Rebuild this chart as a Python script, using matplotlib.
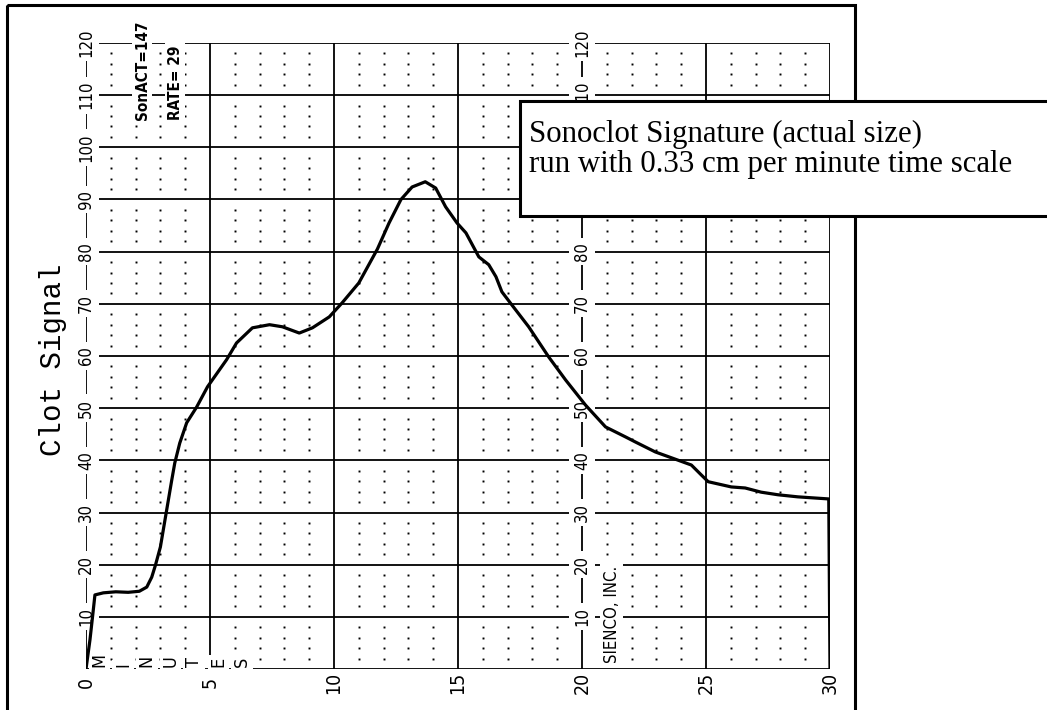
import numpy as np
import matplotlib
matplotlib.use("Agg")
import matplotlib.pyplot as plt
from matplotlib import font_manager
from matplotlib.patches import Rectangle

# Sonoclot signature trace (minutes, clot signal)
minutes = [0.0, 0.16, 0.28, 0.36, 0.7, 1.2, 1.7, 2.15, 2.45, 2.65, 2.8, 3.0,
           3.2, 3.45, 3.58, 3.78, 4.06, 4.46, 4.9, 5.67, 6.07, 6.71, 7.4,
           7.92, 8.6, 9.13, 9.81, 10.33, 11.0, 11.75, 12.22, 12.7, 13.15,
           13.68, 14.1, 14.5, 14.96, 15.32, 15.84, 16.24, 16.53, 16.77, 17.17,
           17.85, 18.66, 19.34, 20.14, 20.95, 21.75, 22.16, 22.96, 23.6, 24.41,
           24.81, 25.09, 26.02, 26.58, 27.22, 27.9, 28.7, 29.95, 30.0]
signal = [0.0, 5.6, 10.7, 14.2, 14.6, 14.8, 14.7, 14.9, 15.7, 17.6, 19.9, 23.4,
          29.0, 36.0, 39.5, 43.3, 47.2, 50.2, 54.1, 59.3, 62.5, 65.4, 66.0,
          65.6, 64.4, 65.4, 67.5, 70.2, 74.0, 80.5, 85.5, 90.0, 92.4,
          93.4, 92.2, 88.6, 85.5, 83.6, 79.0, 77.5, 75.2, 72.3, 69.8,
          65.6, 59.8, 55.4, 50.6, 46.4, 44.5, 43.5, 41.6, 40.5, 39.1,
          37.2, 35.9, 34.9, 34.7, 33.9, 33.4, 33.0, 32.6, 0.0]

# Axis labelling of the chart paper
x_ticks = [0, 5, 10, 15, 20, 25, 30]
left_strip_labels = [10, 20, 30, 40, 50, 60, 70, 80, 90, 100, 110, 120]
mid_strip_labels = [10, 20, 30, 40, 50, 60, 70, 80, 110, 120]  # 90/100 sit under the note
minutes_letters = list("MINUTES")
minutes_letter_pos = [0.55, 1.5, 2.45, 3.4, 4.35, 5.35, 6.3]
son_act = "SonACT=147"
rate = "RATE= 29"
maker = "SIENCO, INC."
y_title = "Clot Signal"
note_lines = ["Sonoclot Signature (actual size)",
              "run with 0.33 cm per minute time scale"]

# pick a narrow font for the printer style labels if there is one
available = {f.name for f in font_manager.fontManager.ttflist}
narrow = "Liberation Sans Narrow" if "Liberation Sans Narrow" in available else "DejaVu Sans"

W, H = 1047, 710
fig = plt.figure(figsize=(W / 100, H / 100), dpi=100, facecolor="white")

# chart paper area in pixels: x 0..30 min -> 86..830, y 0..120 -> 669..43
x0, x1, y0, y1 = 86, 830, 669, 43
ax = fig.add_axes([x0 / W, 1 - y0 / H, (x1 - x0) / W, (y0 - y1) / H])
ax.set_xlim(0, 30)
ax.set_ylim(0, 120)
ax.axis("off")

# major grid
ax.hlines(np.arange(0, 121, 10), 0, 30, color="black", lw=1.3, zorder=1)
ax.vlines(np.arange(0, 31, 5), 0, 120, color="black", lw=1.3, zorder=1)

# dotted minor grid (every minute, every 2 units)
mx = [m for m in range(1, 30) if m % 5]
my = [v for v in range(2, 120, 2) if v % 10]
gx, gy = np.meshgrid(mx, my)
ax.plot(gx.ravel(), gy.ravel(), ls="none", marker="s", ms=1.4, color="black",
        mew=0, zorder=1)

# scale strips printed on the paper
box = dict(boxstyle="square,pad=0.25", fc="white", ec="none")
txt = dict(rotation=90, family=narrow, fontstretch="condensed")
for v in left_strip_labels:
    ax.text(0, v, str(v), ha="center", va="center", fontsize=12,
            bbox=box, zorder=4, **txt)
for v in mid_strip_labels:
    ax.text(20, v, str(v), ha="center", va="center", fontsize=12,
            bbox=box, zorder=4, **txt)

for m in x_ticks:
    ax.text(m, -2.6, str(m), ha="center", va="center",
            fontsize=14, clip_on=False, **txt)

for m, ch in zip(minutes_letter_pos, minutes_letters):
    ax.text(m, 0.4, ch, ha="center", va="bottom", fontsize=13,
            bbox=dict(boxstyle="square,pad=0.1", fc="white", ec="none"),
            zorder=4, **txt)

small_box = dict(boxstyle="square,pad=0.15", fc="white", ec="none")
ax.text(2.26, 105.3, son_act, ha="center", va="bottom", fontsize=11,
        fontweight="bold", bbox=small_box, zorder=4, **txt)
ax.text(3.6, 105.3, rate, ha="center", va="bottom", fontsize=11,
        fontweight="bold", bbox=small_box, zorder=4, **txt)
ax.text(21.2, 1.2, maker, ha="center", va="bottom", fontsize=12,
        bbox=small_box, zorder=4, **txt)

# the trace, drawn over the printed scales
ax.plot(minutes, signal, color="black", lw=2.3, solid_joinstyle="round", zorder=5)

# overlay in pixel coordinates for the frame, title and note box
ov = fig.add_axes([0, 0, 1, 1], zorder=5)
ov.set_xlim(0, W)
ov.set_ylim(H, 0)
ov.axis("off")
ov.patch.set_alpha(0)

ov.add_patch(Rectangle((7, 5), 848, 720, fill=False, ec="black", lw=2.2))
ov.text(53, 360, y_title, rotation=90, ha="center", va="center",
        family="Liberation Mono", fontsize=21)

ov.add_patch(Rectangle((520, 101), 560, 115, fc="white", ec="black", lw=2.2,
                       clip_on=False))
ov.text(529, 142, note_lines[0], ha="left", va="baseline",
        family="Liberation Serif", fontsize=22.2)
ov.text(529, 172, note_lines[1], ha="left", va="baseline",
        family="Liberation Serif", fontsize=22.2)

fig.savefig("out.png", dpi=100, facecolor="white")
